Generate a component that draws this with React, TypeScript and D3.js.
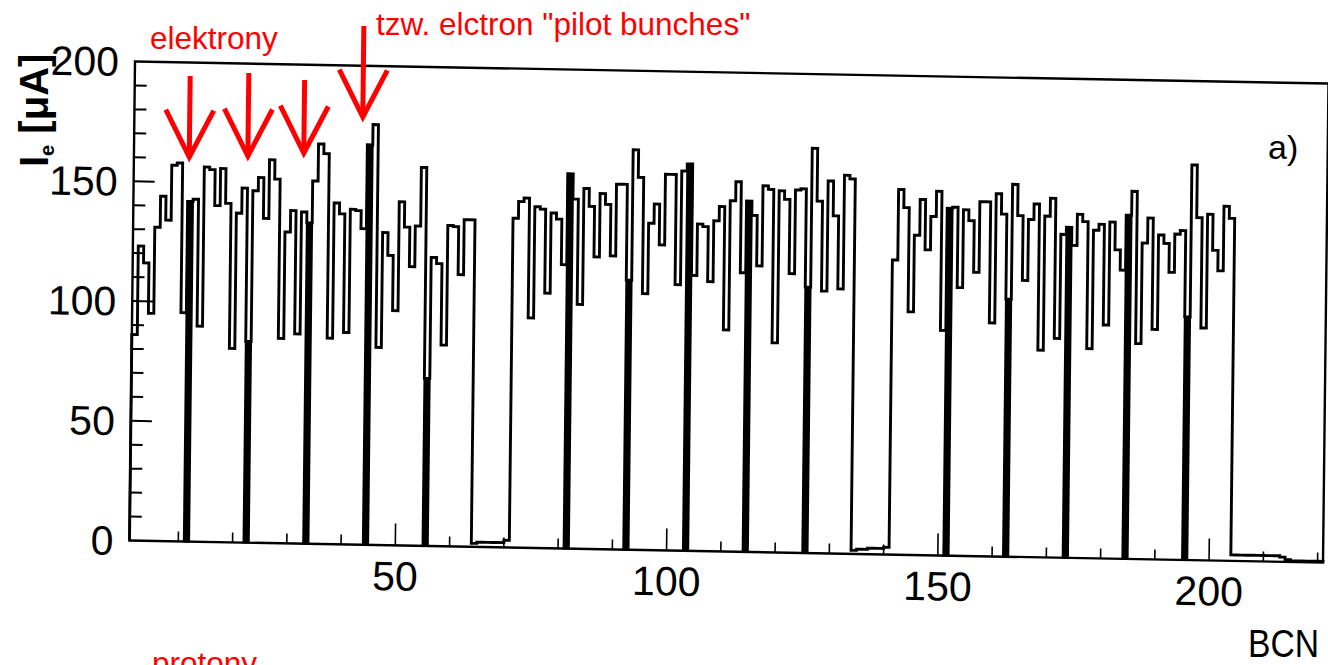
import React, { useRef, useEffect } from 'react';
import * as d3 from 'd3';

// electron bunch current I_e [uA] per BCN
const train1 = [
  86, 123, 116, 95, 131, 144, 134, 157, 158, 95.5,
  142, 143, 90, 156.5, 155.5, 140.5, 156, 141.5, 81, 137.5,
  148, 84, 147, 152.5, 135.5, 160, 152, 85.5, 130, 139,
  87.5, 138.5, 134, 151.5, 167, 163, 86, 142.5, 138, 88.5,
  140, 139.5, 132, 167, 175.5, 82.5, 130.5, 121, 98, 143.5,
  133, 116.5, 133.5, 158, 70, 120.5, 118, 84, 134, 133.5,
  113.5, 136.5, 136.5,
]; // BCN 1-63
const gap1 = [1.5, 2, 2, 2, 2, 2, 3]; // BCN 64-70
const train2 = [
  137.5, 144.5, 146, 96, 142.5, 141.5, 106.5, 140, 137.5, 118.5,
  156.5, 146, 102, 150.5, 143, 122, 148.5, 144, 122.5, 152.5,
  152.5, 112.5, 167, 155.5, 107, 136.5, 144.5, 127.5, 157, 157,
  111, 158.5, 161.5, 115, 136.5, 135.5, 112.5, 138, 144, 92.5,
  146.5, 154.5, 116.5, 146.5, 140.5, 119.5, 153, 151.5, 87.5, 151,
  147.5, 116.5, 151.5, 152, 111, 169, 147, 109.5, 155.5, 141,
  110.5, 158, 156.5,
]; // BCN 71-133
const gap2 = [1.5, 2, 2, 2.5, 2.5, 2.5, 3]; // BCN 134-140
const train3 = [
  123, 152.5, 145, 101.5, 133.5, 148.5, 127.5, 141.5, 152, 94,
  145, 145.5, 112, 144.5, 140, 118.5, 148, 148, 97.5, 151.5,
  143, 107.5, 155.5, 142.5, 115.5, 141, 147.5, 86.5, 142.5, 150,
  91.5, 135, 138, 130.5, 143.5, 140.5, 87.5, 137, 139.5, 97.5,
  140.5, 129, 120.5, 143.5, 153.5, 90, 132, 142.5, 96, 135.5,
  132, 120, 136, 137.5, 101.5, 165, 143, 97, 144.5, 129.5,
  121, 148, 143,
]; // BCN 141-203
const gap3 = [2.5, 2.5, 2.5, 2.5, 2.5, 2.5, 2.5, 2.5, 2.5, 2, 1, 0.5, 0.5, 0.5, 0.5, 0.5, 0.5]; // BCN 204-220

// bunches drawn filled
const filledBcn = [11, 22, 33, 44, 55, 81, 92, 103, 114, 125, 151, 162, 173, 184, 195];

const yTickLabels = [0, 50, 100, 150, 200];
const xTickLabels = [50, 100, 150, 200];

// red hand-drawn arrows: BCN, tip and tail value
const arrowBcn = [11.2, 22.0, 32.3, 43.1];
const arrowTip = [160.5, 161.4, 163.1, 178.6];
const arrowTail = [194.4, 196.1, 193.6, 216.6];

const RED = '#ff0000';
const FONT = '"Liberation Sans", Arial, Helvetica, sans-serif';

const App = () => {
  const svgRef = useRef<SVGSVGElement>(null);

  useEffect(() => {
    const svg = d3.select(svgRef.current);
    svg.selectAll('*').remove();

    const plotW = 1193.5;
    const plotH = 479;
    // the scan is slightly skewed
    const g = svg.append('g').attr('transform', 'matrix(1,0.0185,-0.0115,1,135,61.5)');

    const values = [...train1, ...gap1, ...train2, ...gap2, ...train3, ...gap3];
    const bins = values.map((v, i) => ({ bcn: i + 1, v }));

    const x = d3.scaleLinear().domain([1, 221]).range([0, plotW]);
    const y = d3.scaleLinear().domain([0, 200]).range([plotH, 0]);

    // filled bunches
    g.selectAll('rect.filled')
      .data(bins.filter(d => filledBcn.includes(d.bcn)))
      .enter()
      .append('rect')
      .attr('x', d => x(d.bcn))
      .attr('width', x(2) - x(1))
      .attr('y', d => y(d.v))
      .attr('height', d => y(0) - y(d.v))
      .attr('fill', '#000')
      .attr('stroke', '#000')
      .attr('stroke-width', 1.8);

    // histogram outline
    const pts = [{ bcn: 1, v: 0 }, ...bins, { bcn: 221, v: bins[bins.length - 1].v }, { bcn: 221, v: 0 }];
    const line = d3.line<{ bcn: number; v: number }>()
      .x(d => x(d.bcn))
      .y(d => y(d.v))
      .curve(d3.curveStepAfter);

    g.append('path')
      .datum(pts)
      .attr('fill', 'none')
      .attr('stroke', '#000')
      .attr('stroke-width', 2.9)
      .attr('stroke-linejoin', 'miter')
      .attr('d', line);

    // frame
    g.append('rect')
      .attr('x', 0)
      .attr('y', 0)
      .attr('width', plotW)
      .attr('height', plotH)
      .attr('fill', 'none')
      .attr('stroke', '#000')
      .attr('stroke-width', 2.4);

    // ticks, pointing inwards
    d3.range(10, 200, 10).forEach(t => {
      g.append('line')
        .attr('x1', 0)
        .attr('x2', t % 50 === 0 ? 21 : 12)
        .attr('y1', y(t))
        .attr('y2', y(t))
        .attr('stroke', '#000')
        .attr('stroke-width', 2);
    });
    d3.range(10, 221, 10).forEach(t => {
      g.append('line')
        .attr('x1', x(t))
        .attr('x2', x(t))
        .attr('y1', plotH)
        .attr('y2', plotH - (t % 50 === 0 ? 22 : 10))
        .attr('stroke', '#000')
        .attr('stroke-width', 1.6);
    });

    g.selectAll('text.ylab')
      .data(yTickLabels)
      .enter()
      .append('text')
      .attr('x', -16)
      .attr('y', d => y(d))
      .attr('dy', '0.36em')
      .attr('text-anchor', 'end')
      .attr('font-family', FONT)
      .attr('font-size', 41)
      .text(d => d);

    g.selectAll('text.xlab')
      .data(xTickLabels)
      .enter()
      .append('text')
      .attr('x', d => x(d))
      .attr('y', plotH + 45)
      .attr('text-anchor', 'middle')
      .attr('font-family', FONT)
      .attr('font-size', 41)
      .text(d => d);

    // red arrows
    arrowBcn.forEach((b, i) => {
      const ax = x(b);
      const tip = y(arrowTip[i]);
      g.append('line')
        .attr('x1', ax).attr('x2', ax)
        .attr('y1', y(arrowTail[i])).attr('y2', tip)
        .attr('stroke', RED)
        .attr('stroke-width', 5);
      g.append('path')
        .attr('d', `M${ax - 24},${tip - 47}L${ax},${tip}L${ax + 24},${tip - 47}`)
        .attr('fill', 'none')
        .attr('stroke', RED)
        .attr('stroke-width', 5);
    });

    // axis titles
    const title = svg.append('text')
      .attr('transform', 'translate(48,167) rotate(-90)')
      .attr('font-family', FONT)
      .attr('font-size', 40)
      .attr('font-weight', 'bold');
    title.append('tspan').text('I');
    title.append('tspan').attr('font-size', 20).attr('dy', 6).text('e');
    title.append('tspan').attr('dy', -6).text(' [μA]');

    svg.append('text')
      .attr('x', 1319)
      .attr('y', 657)
      .attr('text-anchor', 'end')
      .attr('font-family', FONT)
      .attr('font-size', 38)
      .attr('textLength', 71)
      .attr('lengthAdjust', 'spacingAndGlyphs')
      .text('BCN');

    svg.append('text')
      .attr('x', 1268)
      .attr('y', 159)
      .attr('font-family', FONT)
      .attr('font-size', 34)
      .text('a)');

    // red annotations
    svg.append('text')
      .attr('x', 150).attr('y', 48.5)
      .attr('fill', RED).attr('font-family', FONT).attr('font-size', 31.5)
      .text('elektrony');
    svg.append('text')
      .attr('x', 376).attr('y', 35)
      .attr('fill', RED).attr('font-family', FONT).attr('font-size', 31.5)
      .text('tzw. elctron "pilot bunches"');
    svg.append('text')
      .attr('x', 152).attr('y', 674)
      .attr('fill', RED).attr('font-family', FONT).attr('font-size', 31.5)
      .text('protony');
  }, []);

  return (
    <svg
      ref={svgRef}
      width={1328}
      height={665}
      style={{ position: 'absolute', left: 0, top: 0, background: '#fff', overflow: 'hidden' }}
    />
  );
};

export default App;
